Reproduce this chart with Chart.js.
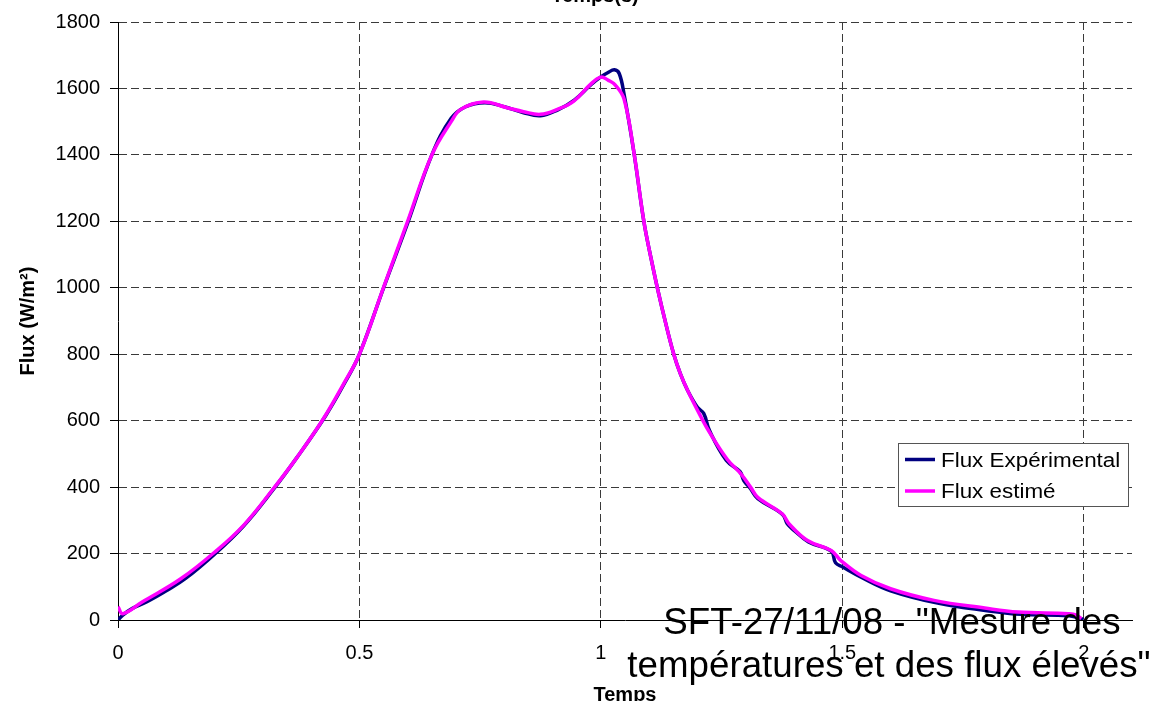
<!DOCTYPE html>
<html>
<head>
<meta charset="utf-8">
<script src="https://cdn.jsdelivr.net/npm/chart.js@4.4.0/dist/chart.umd.min.js"></script>
<style>
html,body{margin:0;padding:0;background:#fff;overflow:hidden;}
#wrap{width:1158px;height:701px;}
</style>
</head>
<body>
<div id="wrap"><canvas id="c" width="1158" height="701"></canvas></div>
<script>
// ---- data ----
const timeExp = [0, 0.01, 0.03, 0.06, 0.1, 0.14, 0.2, 0.26, 0.32, 0.37, 0.43, 0.47, 0.5, 0.55, 0.6, 0.65, 0.69, 0.72, 0.76, 0.8, 0.84, 0.875, 0.91, 0.945, 0.98, 1.0, 1.015, 1.028, 1.038, 1.048, 1.068, 1.089, 1.103, 1.117, 1.134, 1.151, 1.165, 1.18, 1.2, 1.213, 1.225, 1.26, 1.288, 1.296, 1.31, 1.325, 1.376, 1.386, 1.4, 1.43, 1.477, 1.486, 1.5, 1.54, 1.6, 1.7, 1.8, 1.87, 1.97, 2.0];
const fluxExp = [0, 15, 35, 55, 88, 125, 198, 283, 390, 488, 615, 715, 800, 1000, 1195, 1400, 1510, 1545, 1557, 1545, 1527, 1518, 1535, 1565, 1612, 1635, 1648, 1656, 1645, 1583, 1412, 1200, 1095, 1000, 895, 800, 740, 690, 640, 622, 570, 480, 447, 420, 395, 365, 318, 290, 270, 235, 207, 172, 160, 128, 88, 50, 28, 17, 13, 2];
const timeEst = [0, 0.01, 0.05, 0.13, 0.2, 0.26, 0.32, 0.37, 0.425, 0.467, 0.5, 0.55, 0.6, 0.65, 0.69, 0.71, 0.757, 0.806, 0.84, 0.875, 0.91, 0.944, 0.979, 1.0, 1.015, 1.03, 1.048, 1.068, 1.089, 1.103, 1.117, 1.134, 1.151, 1.165, 1.18, 1.207, 1.225, 1.262, 1.29, 1.31, 1.325, 1.376, 1.39, 1.428, 1.477, 1.497, 1.539, 1.6, 1.69, 1.795, 1.864, 1.968, 1.985, 1.995];
const fluxEst = [40, 19, 54, 124, 204, 285, 392, 488, 605, 710, 800, 1001, 1201, 1400, 1500, 1537, 1559, 1542, 1530, 1522, 1537, 1562, 1613, 1634, 1625, 1610, 1568, 1412, 1200, 1095, 1000, 895, 800, 740, 690, 612, 565, 483, 440, 400, 369, 319, 289, 239, 209, 179, 134, 94, 59, 36, 24, 19, 15, 4];
const seriesNames = ['Flux Expérimental', 'Flux estimé'];
const yTicks = [0, 200, 400, 600, 800, 1000, 1200, 1400, 1600, 1800];
const xTicks = [0, 0.5, 1, 1.5, 2];
const xTitleTop = 'Temps(s)';
const xTitle = 'Temps';
const yTitle = 'Flux (W/m²)';
const noteLines = ['SFT-27/11/08 - "Mesure des', 'températures et des flux élevés"'];

const FONT = '"Liberation Sans", Arial, Helvetica, sans-serif';
Chart.defaults.font.family = FONT;
Chart.defaults.color = '#000';

const colExp = '#000080';
const colEst = '#FF00FF';

function stretchText(ctx, text, x, y, font, sx, align) {
  ctx.save();
  ctx.font = font;
  const w = ctx.measureText(text).width * sx;
  let left = x;
  if (align === 'center') left = x - w / 2;
  else if (align === 'right') left = x - w;
  ctx.translate(left, y);
  ctx.scale(sx, 1);
  ctx.textAlign = 'left';
  ctx.fillText(text, 0, 0);
  ctx.restore();
}

const extras = {
  id: 'extras',
  afterDraw(chart) {
    const ctx = chart.ctx;
    ctx.save();
    ctx.fillStyle = '#000';
    ctx.textBaseline = 'alphabetic';
    // top title (cut off by the top edge in the reference)
    stretchText(ctx, xTitleTop, 595, 2, 'bold 20px ' + FONT, 1.0, 'center');

    // legend box
    const lx = 898.5, ly = 443.5, lw = 230, lh = 63;
    ctx.fillStyle = '#fff';
    ctx.fillRect(lx, ly, lw, lh);
    ctx.strokeStyle = '#555';
    ctx.lineWidth = 1;
    ctx.strokeRect(lx, ly, lw, lh);
    const rows = [[colExp, 459.5], [colEst, 491]];
    rows.forEach((r, i) => {
      ctx.strokeStyle = r[0];
      ctx.lineWidth = 3.5;
      ctx.beginPath();
      ctx.moveTo(905, r[1]);
      ctx.lineTo(935, r[1]);
      ctx.stroke();
      ctx.fillStyle = '#000';
      stretchText(ctx, seriesNames[i], 941, r[1] + 7, '20px ' + FONT, 1.12, 'left');
    });

    // annotation text
    ctx.fillStyle = '#000';
    stretchText(ctx, noteLines[0], 892, 634, '36px ' + FONT, 1.02, 'center');
    stretchText(ctx, noteLines[1], 889, 677, '36px ' + FONT, 1.02, 'center');
    ctx.restore();
  }
};

const toPts = (xs, ys) => xs.map((x, i) => ({x: x, y: ys[i]}));

new Chart(document.getElementById('c'), {
  type: 'line',
  data: {
    datasets: [
      {
        label: seriesNames[0],
        data: toPts(timeExp, fluxExp),
        borderColor: colExp,
        backgroundColor: colExp,
        borderWidth: 3.5,
        pointRadius: 0,
        tension: 0.4,
        order: 2
      },
      {
        label: seriesNames[1],
        data: toPts(timeEst, fluxEst),
        borderColor: colEst,
        backgroundColor: colEst,
        borderWidth: 3.5,
        pointRadius: 0,
        tension: 0.4,
        order: 1
      }
    ]
  },
  options: {
    responsive: false,
    animation: false,
    devicePixelRatio: 1,
    layout: {padding: {top: 20, right: 26, bottom: 0, left: 0}},
    plugins: {legend: {display: false}, tooltip: {enabled: false}, title: {display: false}},
    scales: {
      x: {
        type: 'linear',
        min: 0,
        max: 2.1,
        afterBuildTicks(scale) {
          scale.ticks = xTicks.map(v => ({value: v}));
        },
        afterFit(scale) { scale.height = 81; },
        ticks: {
          font: {size: 20},
          padding: 13,
          maxRotation: 0,
          autoSkip: false,
          callback: v => String(v)
        },
        grid: {
          color: ctx => (ctx.tick && ctx.tick.value === 0) ? 'rgba(0,0,0,0)' : '#3a3a3a',
          lineWidth: 1,
          tickLength: 8,
          tickColor: '#000',
          tickWidth: 1
        },
        border: {display: true, color: '#000', width: 1, dash: [8, 4]},
        title: {
          display: true,
          text: xTitle,
          font: {size: 20, weight: 'bold'},
          padding: {top: 0, bottom: -6}
        }
      },
      y: {
        type: 'linear',
        min: 0,
        max: 1800,
        afterBuildTicks(scale) {
          scale.ticks = yTicks.map(v => ({value: v}));
        },
        afterFit(scale) { scale.width = 118; },
        ticks: {
          font: {size: 20},
          padding: 10,
          callback: v => String(v)
        },
        grid: {
          color: ctx => (ctx.tick && ctx.tick.value === 0) ? 'rgba(0,0,0,0)' : '#3a3a3a',
          lineWidth: 1,
          tickLength: 8,
          tickColor: '#000',
          tickWidth: 1
        },
        border: {display: true, color: '#000', width: 1, dash: [8, 4]},
        title: {
          display: true,
          text: yTitle,
          font: {size: 20, weight: 'bold'},
          padding: {top: 16, bottom: 0}
        }
      }
    }
  },
  plugins: [extras]
});
</script>
</body>
</html>
